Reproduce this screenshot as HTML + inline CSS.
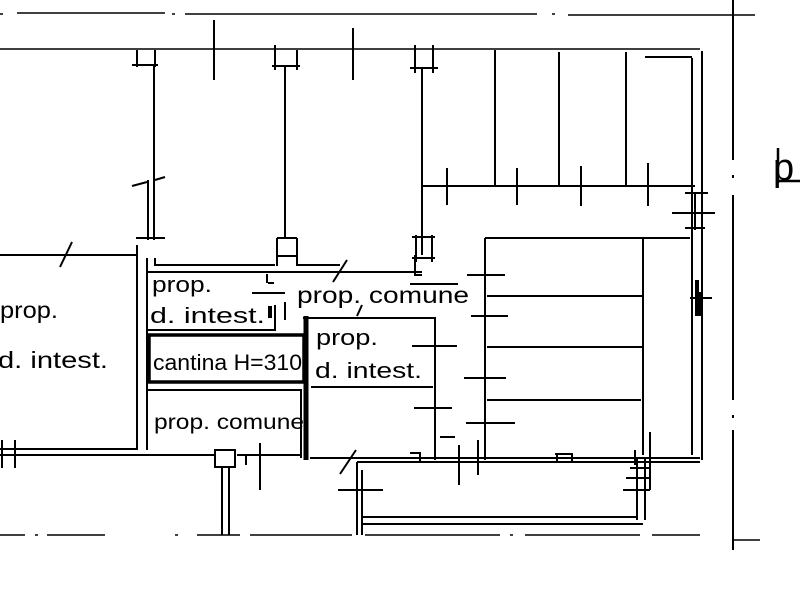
<!DOCTYPE html>
<html><head><meta charset="utf-8"><style>
html,body{margin:0;padding:0;background:#fff;width:800px;height:600px;overflow:hidden}
svg{display:block}
text{font-family:"Liberation Sans",sans-serif;fill:#000}
</style></head><body>
<svg width="800" height="600" viewBox="0 0 800 600" xmlns="http://www.w3.org/2000/svg">
<g stroke="#000" fill="none" stroke-width="2">
<path d="M0 14 H3 M17 13 H165 M172 14 H175 M185 14 H537 M552 14 H555 M568 15 H755" stroke-width="1.5"/>
<path d="M733 0 V160 M733 175 V178 M733 195 V400 M733 415 V418 M733 430 V550" stroke-width="2"/>
<path d="M0 49 H700" stroke-width="1.5"/>
<path d="M702 51 V460 M692 58 V455 M645 57 H692" stroke-width="2"/>
<path d="M214 20 V80 M353 28 V80 M447 168 V205 M517 168 V205 M581 166 V206 M648 163 V206"/>
<path d="M137 50 V67 M155 50 V67 M132 65 H158"/>
<path d="M275 45 V70 M297 50 V70 M272 66 H300"/>
<path d="M415 45 V73 M433 45 V73 M410 68 H438"/>
<path d="M154 65 V240 M285 67 V238 M422 67 V255"/>
<path d="M148 180 V240 M132 186 L147 182 M155 180 L165 177"/>
<path d="M495 50 V185 M559 52 V185 M626 52 V185 M422 186 H695"/>
<path d="M685 193 H708 M685 228 H705 M672 213 H715 M695 193 V230 M700 292 V316 M690 298 H712" stroke-width="2"/>
<path d="M697 280 V316" stroke-width="4"/>
<path d="M412 237 H435 M412 258 H435 M416 235 V262 M432 235 V262"/>
<path d="M0 255 H137 M60 267 L72 242"/>
<path d="M136 238 H165 M137 245 V450 M147 258 V450 M155 258 V265 H275"/>
<path d="M277 238 V266 M297 238 V266 M277 238 H297 M277 256 H297 M297 265 H340 M333 282 L347 260 M415 255 V275 H422"/>
<path d="M147 272 H422"/>
<path d="M147 330 H275 V305 M267 274 V283 M268 283 H274 M252 293 H285 M285 302 V320"/>
<path d="M270 306 V318" stroke-width="4"/>
<rect x="149" y="335" width="155" height="47" stroke-width="3.5"/>
<path d="M148 390 H301 V458"/>
<path d="M306 316 V460" stroke-width="5"/>
<path d="M303 318 H435 M311 387 H433 M435 317 V460 M357 316 L362 305"/>
<path d="M412 346 H457 M414 408 H452 M410 284 H458 M440 437 H455"/>
<path d="M485 238 V460 M485 238 H690 M643 238 V455 M487 296 H642 M487 347 H642 M487 400 H641"/>
<path d="M467 275 H505 M471 316 H508 M464 378 H506 M466 423 H515"/>
<path d="M310 458 H700 M0 449 H137 M0 455 H215" stroke-width="2"/>
<path d="M357 462 H700 M357 462 V535 M362 470 V535 M362 517 H637 M362 524 H643 M637 458 V520 M645 458 V520"/>
<path d="M340 474 L356 450 M338 490 H383 M623 490 H650 M630 468 H650 M626 478 H650 M410 453 H420 V462 M555 454 H572 V462 M557 454 V462 M459 445 V485 M478 440 V475 M650 432 V490 M635 450 V465"/>
<path d="M215 450 H235 V467 H215 Z M222 467 V535 M229 467 V535 M237 455 H300 M260 443 V490 M246 455 V465"/>
<path d="M2 440 V468 M15 440 V468 M0 455 H18"/>
<path d="M0 535 H25 M35 535 H38 M47 535 H105 M175 535 H178 M197 535 H240 M250 535 H352 M365 535 H500 M510 535 H513 M525 535 H640 M652 535 H700" stroke-width="1.5"/>
<path d="M733 540 H760" stroke-width="1.5"/>
</g>
<text x="0" y="318" font-size="23" textLength="58" lengthAdjust="spacingAndGlyphs">prop.</text>
<text x="-2" y="368" font-size="23" textLength="110" lengthAdjust="spacingAndGlyphs">d. intest.</text>
<text x="152" y="292" font-size="22" textLength="60" lengthAdjust="spacingAndGlyphs">prop.</text>
<text x="150" y="323" font-size="22" textLength="115" lengthAdjust="spacingAndGlyphs">d. intest.</text>
<text x="153" y="370" font-size="22" textLength="149" lengthAdjust="spacingAndGlyphs">cantina H=310</text>
<text x="154" y="429" font-size="21" textLength="150" lengthAdjust="spacingAndGlyphs">prop. comune</text>
<text x="297" y="303" font-size="23" textLength="172" lengthAdjust="spacingAndGlyphs">prop. comune</text>
<text x="316" y="345" font-size="22" textLength="62" lengthAdjust="spacingAndGlyphs">prop.</text>
<text x="315" y="378" font-size="22" textLength="107" lengthAdjust="spacingAndGlyphs">d. intest.</text>
<text x="773" y="180" font-size="38">p</text>
<path d="M778 148 V183 M778 181 H800" stroke="#000" stroke-width="2.5" fill="none"/>
</svg>
</body></html>
